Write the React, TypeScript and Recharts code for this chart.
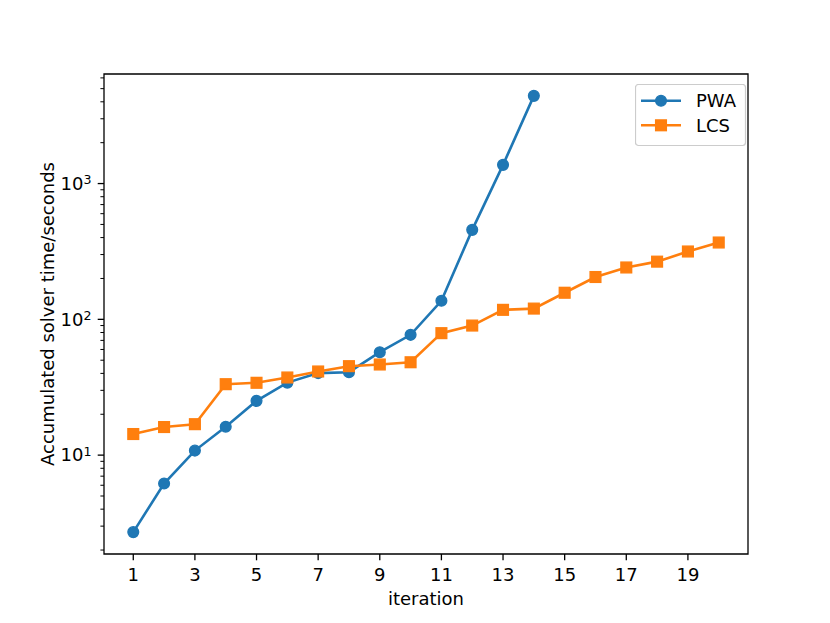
import { LineChart, Line, XAxis, YAxis, Legend, ReferenceArea } from 'recharts';

const ITERATIONS = [1, 2, 3, 4, 5, 6, 7, 8, 9, 10, 11, 12, 13, 14, 15, 16, 17, 18, 19, 20];
// accumulated solver time in seconds (PWA stops after iteration 14)
const PWA_SECONDS = [2.71, 6.18, 10.8, 16.2, 25.1, 34.2, 40.2, 40.8, 57.3, 76.9, 137, 456, 1373, 4425];
const LCS_SECONDS = [14.3, 16.1, 16.9, 33.3, 34.1, 37.3, 41.3, 45.2, 46.5, 48.3, 79.1, 90, 117.5, 120, 157, 205, 241, 266, 316, 368];

const X_TICKS = [1, 3, 5, 7, 9, 11, 13, 15, 17, 19];
const Y_MAJOR_TICKS = [10, 100, 1000];
const Y_MINOR_TICKS = [
  2, 3, 4, 5, 6, 7, 8, 9,
  20, 30, 40, 50, 60, 70, 80, 90,
  200, 300, 400, 500, 600, 700, 800, 900,
  2000, 3000, 4000, 5000, 6000,
];
const SERIES_ORDER = ['pwa', 'lcs'];

const X_DOMAIN: [number, number] = [0.05, 20.95];
const Y_DOMAIN: [number, number] = [1.87, 6410];

const BLUE = '#1f77b4';
const ORANGE = '#ff7f0e';
const FONT = 'DejaVu Sans, sans-serif';
const FONT_SIZE = 18;
const LINE_W = 2.6;
const MARKER_R = 5.4;
const MARKER_EDGE = 1.3;

const PLOT_LEFT = 104;
const PLOT_BOTTOM = 554;

const data = ITERATIONS.map((iteration, i) => ({
  iteration,
  pwa: PWA_SECONDS[i],
  lcs: LCS_SECONDS[i],
}));

const yTicks = [...Y_MINOR_TICKS, ...Y_MAJOR_TICKS].sort((a, b) => a - b);

function XTick({ x, payload }: any) {
  return (
    <g>
      <line x1={x} x2={x} y1={PLOT_BOTTOM} y2={PLOT_BOTTOM + 6.3} stroke="#000" strokeWidth={1.3} />
      <text x={x} y={581} textAnchor="middle" fontFamily={FONT} fontSize={FONT_SIZE} fill="#000">
        {payload.value}
      </text>
    </g>
  );
}

function YTick({ y, payload }: any) {
  const v = payload.value;
  const major = Y_MAJOR_TICKS.includes(v);
  if (!major) {
    return <line x1={PLOT_LEFT} x2={PLOT_LEFT - 3.6} y1={y} y2={y} stroke="#000" strokeWidth={1} />;
  }
  const exp = Math.round(Math.log10(v));
  return (
    <g>
      <line x1={PLOT_LEFT} x2={PLOT_LEFT - 6.3} y1={y} y2={y} stroke="#000" strokeWidth={1.3} />
      <text x={91.5} y={y + 6.3} textAnchor="end" fontFamily={FONT} fontSize={FONT_SIZE} fill="#000">
        <tspan>10</tspan>
        <tspan dy={-5.5} fontSize={12.6}>{exp}</tspan>
      </text>
    </g>
  );
}

function XLabel({ viewBox }: any) {
  return (
    <text x={viewBox.x + viewBox.width / 2} y={605} textAnchor="middle" fontFamily={FONT} fontSize={FONT_SIZE} fill="#000">
      iteration
    </text>
  );
}

function YLabel({ viewBox }: any) {
  const cx = 53.5;
  const cy = viewBox.y + viewBox.height / 2;
  return (
    <text x={cx} y={cy} transform={`rotate(-90 ${cx} ${cy})`} textAnchor="middle" fontFamily={FONT} fontSize={FONT_SIZE} fill="#000">
      Accumulated solver time/seconds
    </text>
  );
}

function SquareDot(props: any) {
  const { cx, cy, index } = props;
  if (cx == null || cy == null) return <g key={`sq-${index}`} />;
  return (
    <rect
      key={`sq-${index}`}
      x={cx - MARKER_R}
      y={cy - MARKER_R}
      width={MARKER_R * 2}
      height={MARKER_R * 2}
      fill={ORANGE}
      stroke={ORANGE}
      strokeWidth={MARKER_EDGE}
    />
  );
}

function LegendBox({ payload }: any) {
  const items = [...(payload || [])].sort(
    (a: any, b: any) => SERIES_ORDER.indexOf(a.dataKey) - SERIES_ORDER.indexOf(b.dataKey)
  );
  return (
    <svg width={112} height={63} style={{ display: 'block' }}>
      <rect x={0.5} y={0.5} width={110} height={61} rx={3} fill="#fff" fillOpacity={0.8} stroke="#cccccc" strokeWidth={1.2} />
      {items.map((entry: any, i: number) => {
        const y = 16.8 + i * 24.5;
        const isSquare = entry.dataKey === 'lcs';
        const color = isSquare ? ORANGE : BLUE;
        return (
          <g key={entry.value}>
            <line x1={6} x2={46} y1={y} y2={y} stroke={color} strokeWidth={LINE_W} />
            {isSquare ? (
              <rect
                x={26 - MARKER_R}
                y={y - MARKER_R}
                width={MARKER_R * 2}
                height={MARKER_R * 2}
                fill={color}
                stroke={color}
                strokeWidth={MARKER_EDGE}
              />
            ) : (
              <circle cx={26} cy={y} r={MARKER_R} fill={color} stroke={color} strokeWidth={MARKER_EDGE} />
            )}
            <text x={61} y={y + 6.5} fontFamily={FONT} fontSize={FONT_SIZE} fill="#000">
              {entry.value}
            </text>
          </g>
        );
      })}
    </svg>
  );
}

export default function App() {
  return (
    <div style={{ position: 'absolute', left: 0, top: 0, width: 830, height: 623, background: '#fff' }}>
      <LineChart width={830} height={623} data={data} margin={{ top: 74, right: 82, bottom: 39, left: 44 }}>
        <XAxis
          dataKey="iteration"
          type="number"
          domain={X_DOMAIN}
          allowDataOverflow
          ticks={X_TICKS}
          interval={0}
          height={30}
          axisLine={false}
          tickLine={false}
          tick={<XTick />}
          label={<XLabel />}
        />
        <YAxis
          type="number"
          scale="log"
          domain={Y_DOMAIN}
          allowDataOverflow
          ticks={yTicks}
          interval={0}
          width={60}
          axisLine={false}
          tickLine={false}
          tick={<YTick />}
          label={<YLabel />}
        />
        <ReferenceArea
          x1={X_DOMAIN[0]}
          x2={X_DOMAIN[1]}
          y1={Y_DOMAIN[0]}
          y2={Y_DOMAIN[1]}
          fill="none"
          stroke="#000"
          strokeWidth={1.3}
        />
        <Line
          dataKey="pwa"
          name="PWA"
          stroke={BLUE}
          strokeWidth={LINE_W}
          dot={{ r: MARKER_R, fill: BLUE, stroke: BLUE, strokeWidth: MARKER_EDGE }}
          activeDot={false}
          isAnimationActive={false}
        />
        <Line
          dataKey="lcs"
          name="LCS"
          stroke={ORANGE}
          strokeWidth={LINE_W}
          dot={SquareDot}
          activeDot={false}
          isAnimationActive={false}
        />
        <Legend
          layout="vertical"
          align="center"
          verticalAlign="middle"
          content={<LegendBox />}
          wrapperStyle={{ position: 'absolute', left: 635, top: 84, width: 112, height: 63 }}
        />
      </LineChart>
    </div>
  );
}
